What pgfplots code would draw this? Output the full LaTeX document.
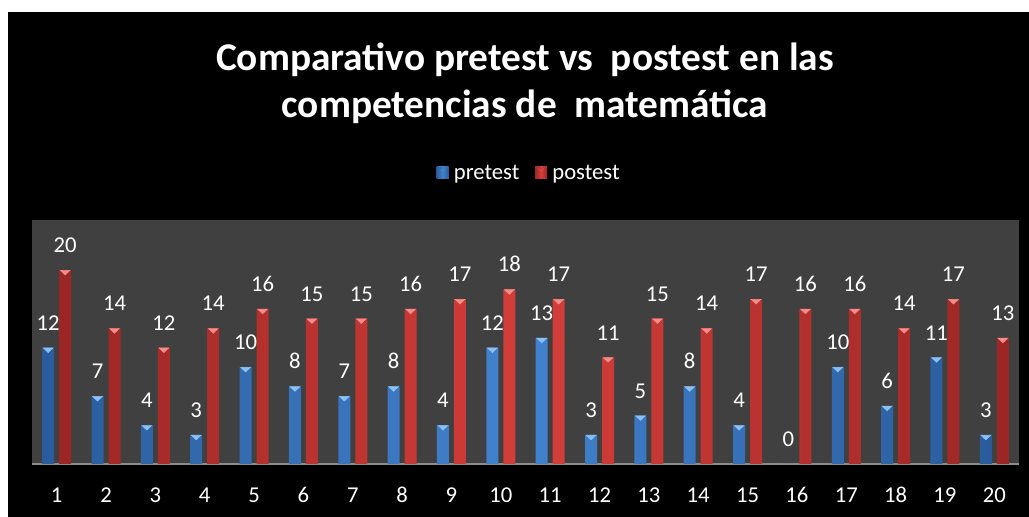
\documentclass[border=0pt]{standalone}
\usepackage{pgfplots}
\usepackage{pgfplotstable}
\pgfplotsset{compat=1.18}
\usepackage{fontspec}
\setmainfont{Carlito}
\definecolor{plotgray}{HTML}{404040}
\definecolor{blueD}{HTML}{2A5C9C}
\definecolor{blueM}{HTML}{4282CE}
\definecolor{blueL}{HTML}{8CC0F2}
\definecolor{redD}{HTML}{9C2624}
\definecolor{redM}{HTML}{D43E3A}
\definecolor{redL}{HTML}{F48C8A}
\definecolor{axgray}{HTML}{8C8C8C}
\pgfplotstableread{
x pre post
1 12 20
2 7 14
3 4 12
4 3 14
5 10 16
6 8 15
7 7 15
8 8 16
9 4 17
10 12 18
11 13 17
12 3 11
13 5 15
14 8 14
15 4 17
16 0 16
17 10 16
18 6 14
19 11 17
20 3 13
}\datatable
\begin{document}
\begin{tikzpicture}[x=0.75pt,y=0.75pt]
\fill[white] (0,0) rectangle (1029,517);
\fill[black] (8,0) rectangle (1029,505);
\node[anchor=base, text=white, font=\fontsize{29.5pt}{34pt}\selectfont\bfseries] at (525,446) {Comparativo pretest vs~ postest en las};
\node[anchor=base, text=white, font=\fontsize{29.5pt}{34pt}\selectfont\bfseries] at (525,399) {competencias de~ matemática};
\begin{axis}[
  at={(32*0.75pt,53*0.75pt)}, anchor=south west,
  scale only axis, width=987*0.75pt, height=244*0.75pt,
  xmin=0.5, xmax=20.5, ymin=0, ymax=25.15,
  axis background/.style={fill=plotgray},
  axis x line*=bottom, axis y line=none,
  x axis line style={draw=axgray, line width=0.9pt, -},
  xtick={1,...,20}, major tick length=0pt, ytick=\empty,
  /pgf/number format/assume math mode=true,
  xticklabel style={text=white, font=\fontsize{17pt}{19pt}\selectfont, inner sep=0pt, anchor=base, yshift=-29.25pt},
  legend style={at={(0.504,1.193)}, anchor=center, draw=none, fill=black, text=white,
     font=\fontsize{17pt}{19pt}\selectfont, legend columns=-1,
     /tikz/every even column/.append style={column sep=13*0.75pt}},
  clip=false,
]
\addplot[ybar, bar width=12*0.75pt, bar shift=-8.5*0.75pt, draw=none,
   left color=blueD, right color=blueD, middle color=blueM,
   nodes near coords,
   every node near coord/.append style={text=white, font=\fontsize{17pt}{19pt}\selectfont, anchor=south, inner sep=0pt, yshift=12.75pt, xshift=-6.375pt},
   legend image code/.code={\fill[blueM] (0pt,-4.5pt) rectangle (9pt,4.5pt); \fill[blueL] (1.5pt,4.5pt) -- (7.5pt,4.5pt) -- (4.5pt,1.5pt) -- cycle; \path (0pt,0pt) -- (11pt,0pt);}]
   table[x=x,y=pre] {\datatable};
\addplot[ybar, bar width=12*0.75pt, bar shift=8.5*0.75pt, draw=none,
   left color=redD, right color=redD, middle color=redM,
   nodes near coords,
   every node near coord/.append style={text=white, font=\fontsize{17pt}{19pt}\selectfont, anchor=south, inner sep=0pt, yshift=12.75pt, xshift=6.375pt},
   legend image code/.code={\fill[redM] (0pt,-4.5pt) rectangle (9pt,4.5pt); \fill[redL] (1.5pt,4.5pt) -- (7.5pt,4.5pt) -- (4.5pt,1.5pt) -- cycle; \path (0pt,0pt) -- (11pt,0pt);}]
   table[x=x,y=post] {\datatable};
\addplot[forget plot, only marks, mark=triangle*, mark size=4.2pt, color=blueL,
   mark options={rotate=180, yscale=0.55, yshift=2.6pt, draw=none, fill=blueL},
   skip coords between index={15}{16}]
   table[x expr=\thisrow{x}-0.1722, y=pre] {\datatable};
\addplot[forget plot, only marks, mark=triangle*, mark size=4.2pt, color=redL,
   mark options={rotate=180, yscale=0.55, yshift=2.6pt, draw=none, fill=redL}]
   table[x expr=\thisrow{x}+0.1722, y=post] {\datatable};
\legend{pretest, postest}
\end{axis}
\end{tikzpicture}
\end{document}
